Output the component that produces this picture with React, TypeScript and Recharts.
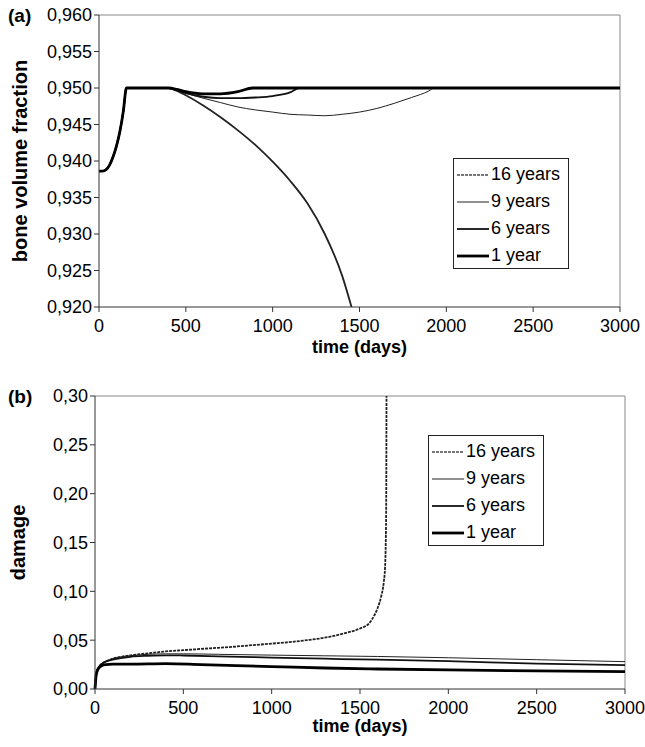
import React from 'react'
import { LineChart, Line, XAxis, YAxis, ReferenceLine } from 'recharts'

// ---- panel (a): bone volume fraction ----
const daysA16 = [0, 20, 40, 60, 80, 100, 120, 140, 158, 250, 400, 450, 500, 600, 700, 800, 900, 1000, 1100, 1200, 1300, 1400, 1454]
const bvf16 = [0.9386, 0.9386, 0.9388, 0.9394, 0.9405, 0.942, 0.944, 0.9468, 0.95, 0.95, 0.95, 0.9496, 0.949, 0.9476, 0.946, 0.9442, 0.9422, 0.9399, 0.9373, 0.9342, 0.93, 0.9243, 0.92]

const daysA9 = [0, 20, 40, 60, 80, 100, 120, 140, 158, 250, 400, 450, 500, 600, 700, 800, 900, 1000, 1100, 1200, 1300, 1400, 1500, 1600, 1700, 1800, 1900, 1930, 2500, 3000]
const bvf9 = [0.9386, 0.9386, 0.9388, 0.9394, 0.9405, 0.942, 0.944, 0.9468, 0.95, 0.95, 0.95, 0.9497, 0.9493, 0.9486, 0.948, 0.9474, 0.947, 0.9467, 0.9464, 0.9463, 0.9462, 0.9464, 0.9467, 0.9472, 0.9479, 0.9487, 0.9496, 0.95, 0.95, 0.95]

const daysA6 = [0, 20, 40, 60, 80, 100, 120, 140, 158, 250, 400, 450, 500, 600, 700, 800, 900, 1000, 1100, 1154, 2000, 3000]
const bvf6 = [0.9386, 0.9386, 0.9388, 0.9394, 0.9405, 0.942, 0.944, 0.9468, 0.95, 0.95, 0.95, 0.9497, 0.9493, 0.9488, 0.9486, 0.9486, 0.9487, 0.9489, 0.9494, 0.95, 0.95, 0.95]

const daysA1 = [0, 20, 40, 60, 80, 100, 120, 140, 158, 250, 400, 450, 500, 600, 700, 800, 885, 2000, 3000]
const bvf1 = [0.9386, 0.9386, 0.9388, 0.9394, 0.9405, 0.942, 0.944, 0.9468, 0.95, 0.95, 0.95, 0.9498, 0.9495, 0.9492, 0.9492, 0.9495, 0.95, 0.95, 0.95]

// ---- panel (b): damage ----
const daysB16 = [0, 5, 10, 20, 40, 60, 100, 150, 200, 300, 400, 500, 600, 700, 800, 900, 1000, 1100, 1200, 1300, 1400, 1500, 1550, 1580, 1600, 1620, 1635, 1642, 1648, 1650]
const dmg16 = [0, 0.012, 0.018, 0.022, 0.026, 0.028, 0.031, 0.033, 0.0345, 0.0365, 0.0385, 0.0398, 0.041, 0.0422, 0.0435, 0.045, 0.0465, 0.048, 0.05, 0.0525, 0.0565, 0.062, 0.067, 0.075, 0.083, 0.095, 0.11, 0.125, 0.18, 0.3]

const daysB9 = [0, 5, 10, 20, 40, 60, 100, 150, 200, 300, 400, 500, 700, 1000, 1300, 1600, 2000, 2500, 3000]
const dmg9 = [0, 0.012, 0.018, 0.022, 0.026, 0.028, 0.031, 0.033, 0.034, 0.0355, 0.036, 0.036, 0.0355, 0.0347, 0.034, 0.0333, 0.032, 0.03, 0.028]

const daysB6 = [0, 5, 10, 20, 40, 60, 100, 200, 300, 400, 500, 700, 1000, 1300, 1600, 2000, 2500, 3000]
const dmg6 = [0, 0.012, 0.018, 0.022, 0.026, 0.028, 0.03, 0.033, 0.034, 0.0345, 0.0343, 0.0335, 0.0322, 0.031, 0.03, 0.0285, 0.026, 0.0245]

const daysB1 = [0, 5, 10, 20, 40, 60, 100, 200, 400, 600, 800, 1000, 1300, 1600, 2000, 2500, 3000]
const dmg1 = [0, 0.012, 0.017, 0.021, 0.024, 0.025, 0.0255, 0.0255, 0.026, 0.025, 0.024, 0.023, 0.0215, 0.0205, 0.0195, 0.0185, 0.0177]

const xTicks = [0, 500, 1000, 1500, 2000, 2500, 3000]
const yTicksA = [0.92, 0.925, 0.93, 0.935, 0.94, 0.945, 0.95, 0.955, 0.96]
const yTicksB = [0, 0.05, 0.1, 0.15, 0.2, 0.25, 0.3]
const seriesNames = ['16 years', '9 years', '6 years', '1 year']

const zip = (t: number[], v: number[]) => t.map((d, i) => ({ t: d, v: v[i] }))

const FONT = '"Liberation Sans", Arial, sans-serif'
const styles = [
  { stroke: '#222', width: 1.8, dash: '3 1' },
  { stroke: '#222', width: 1 },
  { stroke: '#111', width: 1.8 },
  { stroke: '#000', width: 2.8 },
]

const comma = (digits: number) => (v: number) => v.toFixed(digits).replace('.', ',')

const LegendBox = ({ left, top }: { left: number; top: number }) => (
  <div
    style={{
      position: 'absolute', left, top, width: 114, height: 107, border: '1px solid #222',
      background: '#fff', fontFamily: FONT, fontSize: 18, paddingTop: 2, boxSizing: 'content-box',
    }}
  >
    {seriesNames.map((n, i) => (
      <div key={n} style={{ height: 27, display: 'flex', alignItems: 'center' }}>
        <svg width={34} height={10} style={{ marginLeft: 3 }}>
          <line x1={0} x2={32} y1={5} y2={5} stroke={i === 0 ? '#777' : styles[i].stroke} strokeWidth={styles[i].width} strokeDasharray={styles[i].dash} />
        </svg>
        <span>{n}</span>
      </div>
    ))}
  </div>
)

const Panel = ({ top, label, left }: { top: number; label: string; left: number }) => (
  <div style={{ position: 'absolute', left, top, fontFamily: FONT, fontWeight: 'bold', fontSize: 19, lineHeight: 1, transform: 'translateY(-50%)' }}>
    {label}
  </div>
)

const tickStyle = { fontSize: 18, fill: '#000', fontFamily: FONT }

export default function App() {
  const dataA = [zip(daysA16, bvf16), zip(daysA9, bvf9), zip(daysA6, bvf6), zip(daysA1, bvf1)]
  const dataB = [zip(daysB16, dmg16), zip(daysB9, dmg9), zip(daysB6, dmg6), zip(daysB1, dmg1)]
  return (
    <div style={{ position: 'absolute', left: 0, top: 0, width: 645, height: 747, background: '#fff' }}>
      <div style={{ position: 'absolute', left: 0, top: 0 }}>
        <LineChart width={645} height={365} margin={{ top: 15, right: 25, left: 19, bottom: 8 }}>
          <XAxis
            type="number" dataKey="t" domain={[0, 3000]} ticks={xTicks} height={50}
            tickSize={5} tickMargin={7} tick={tickStyle} stroke="#333"
            label={{ value: 'time (days)', position: 'insideBottom', offset: 4, fontSize: 18, fontWeight: 'bold', fill: '#000', fontFamily: FONT }}
          />
          <YAxis
            type="number" domain={[0.92, 0.96]} ticks={yTicksA} width={80} tickSize={5} tick={tickStyle}
            tickFormatter={comma(3)} stroke="#333" allowDataOverflow
            label={{ value: 'bone volume fraction', angle: -90, position: 'insideLeft', offset: 1, fontSize: 20, fontWeight: 'bold', fill: '#000', fontFamily: FONT, style: { textAnchor: 'middle' } }}
          />
          <ReferenceLine y={0.96} stroke="#888" />
          <ReferenceLine x={3000} stroke="#888" />
          {dataA.map((d, i) => (
            <Line
              key={seriesNames[i]} data={d} dataKey="v" name={seriesNames[i]} type="monotone" dot={false}
              stroke={styles[i].stroke} strokeWidth={styles[i].width} isAnimationActive={false}
            />
          ))}
        </LineChart>
        <LegendBox left={453} top={158} />
        <Panel top={15} left={8} label="(a)" />
      </div>
      <div style={{ position: 'absolute', left: 0, top: 380 }}>
        <LineChart width={645} height={367} margin={{ top: 16, right: 20, left: 13, bottom: 8 }}>
          <XAxis
            type="number" dataKey="t" domain={[0, 3000]} ticks={xTicks} height={50}
            tickSize={5} tickMargin={7} tick={tickStyle} stroke="#333"
            label={{ value: 'time (days)', position: 'insideBottom', offset: 7, fontSize: 18, fontWeight: 'bold', fill: '#000', fontFamily: FONT }}
          />
          <YAxis
            type="number" domain={[0, 0.3]} ticks={yTicksB} width={82} tickSize={5} tick={tickStyle}
            tickFormatter={comma(2)} stroke="#333" allowDataOverflow
            label={{ value: 'damage', angle: -90, position: 'insideLeft', offset: 5, fontSize: 20, fontWeight: 'bold', fill: '#000', fontFamily: FONT, style: { textAnchor: 'middle' } }}
          />
          <ReferenceLine y={0.3} stroke="#888" />
          <ReferenceLine x={3000} stroke="#888" />
          {dataB.map((d, i) => (
            <Line
              key={seriesNames[i]} data={d} dataKey="v" name={seriesNames[i]} type="monotone" dot={false}
              stroke={styles[i].stroke} strokeWidth={styles[i].width} strokeDasharray={styles[i].dash}
              isAnimationActive={false}
            />
          ))}
        </LineChart>
        <LegendBox left={428} top={55} />
        <Panel top={16} left={8} label="(b)" />
      </div>
    </div>
  )
}
